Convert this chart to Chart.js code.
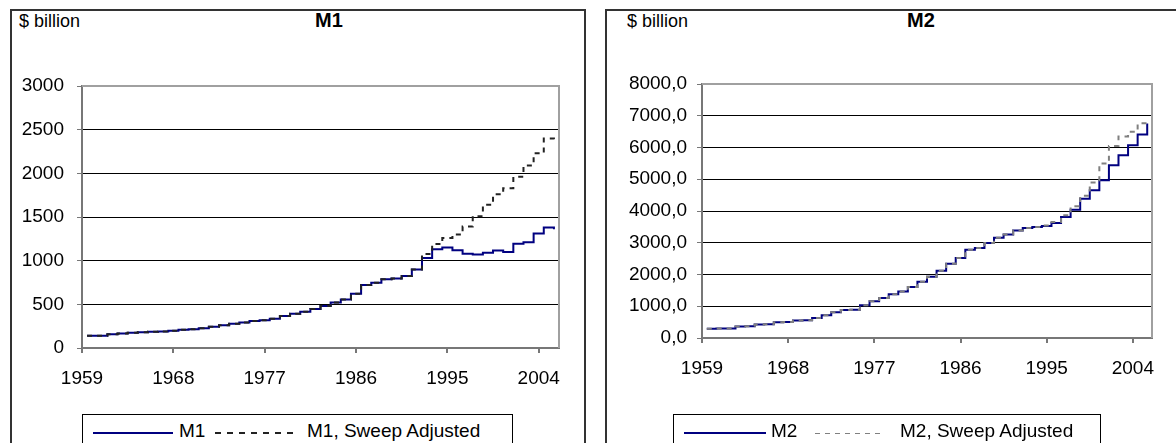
<!DOCTYPE html>
<html><head><meta charset="utf-8">
<script src="https://cdn.jsdelivr.net/npm/chart.js@4.4.1/dist/chart.umd.min.js"></script>
<style>
html,body{margin:0;padding:0;background:#fff;width:1176px;height:443px;overflow:hidden;font-family:"Liberation Sans",Arial,sans-serif;color:#000;}
.panel{position:absolute;border:2px solid #333;border-bottom:none;background:#fff;box-sizing:border-box;}
.t{position:absolute;white-space:nowrap;line-height:1;}
canvas{position:absolute;left:0;top:0;}
.legend{position:absolute;border:1px solid #000;background:#fff;box-sizing:border-box;height:40px;}
.legend .item{position:absolute;top:6px;font-size:19px;line-height:20px;white-space:nowrap;}
.legend .sample{position:absolute;top:17px;}
</style></head><body>
<div class="panel" style="left:10px;top:9px;width:576px;height:440px"></div>
<div class="panel" style="left:605px;top:9px;width:580px;height:440px"></div>
<div class="t" style="left:19px;top:12px;font-size:18px">$ billion</div>
<div class="t" style="left:315px;top:10px;font-size:20px;font-weight:bold">M1</div>
<div class="t" style="left:627px;top:12px;font-size:18px">$ billion</div>
<div class="t" style="left:907px;top:10px;font-size:20px;font-weight:bold">M2</div>
<canvas id="c1" width="1176" height="443"></canvas>
<canvas id="c2" width="1176" height="443"></canvas>
<div class="legend" style="left:82px;top:414px;width:431px">
  <div class="sample" style="left:10px;width:80px;height:2px;background:#000080"></div>
  <div class="item" style="left:96px">M1</div>
  <div class="sample" style="left:132px;width:84px;height:2px;background:repeating-linear-gradient(to right,#222 0 6px,transparent 6px 12px)"></div>
  <div class="item" style="left:224px">M1, Sweep Adjusted</div>
</div>
<div class="legend" style="left:673px;top:414px;width:428px">
  <div class="sample" style="left:10px;width:82px;height:2px;background:#000080"></div>
  <div class="item" style="left:97px">M2</div>
  <div class="sample" style="left:141px;width:67px;height:1px;top:18px;background:repeating-linear-gradient(to right,#808080 0 5px,transparent 5px 10px)"></div>
  <div class="item" style="left:226px">M2, Sweep Adjusted</div>
</div>
<script>
// ---- data ----
const years = [1959,1960,1961,1962,1963,1964,1965,1966,1967,1968,1969,1970,1971,1972,1973,1974,1975,1976,1977,1978,1979,1980,1981,1982,1983,1984,1985,1986,1987,1988,1989,1990,1991,1992,1993,1994,1995,1996,1997,1998,1999,2000,2001,2002,2003,2004,2005];
const m1 = [141,141,158,165,175,179,186,190,197,210,216,227,242,261,279,291,309,317,335,365,391,414,447,482,520,555,620,720,748,786,795,825,900,1030,1130,1150,1120,1080,1070,1090,1115,1100,1195,1210,1310,1380,1360];
const m1Sweep = [141,141,158,165,175,179,186,190,197,210,216,227,242,261,279,291,309,317,335,365,391,414,447,482,520,555,620,720,748,786,795,825,900,1075,1190,1260,1300,1390,1510,1640,1760,1830,1960,2090,2230,2400,2350];
const m2 = [295,298,300,360,368,425,432,500,505,550,560,632,716,810,880,890,1032,1158,1263,1379,1463,1610,1768,1926,2120,2337,2516,2779,2832,2990,3158,3263,3389,3463,3495,3526,3621,3810,4042,4389,4653,4968,5442,5758,6074,6410,6758];
const m2Sweep = [295,298,300,360,368,425,432,500,505,550,560,632,716,810,880,890,1032,1158,1263,1379,1463,1610,1768,1926,2120,2337,2516,2779,2832,2990,3158,3263,3389,3463,3495,3540,3650,3870,4150,4480,4900,5500,6050,6350,6500,6760,6850];
const xTickYears = [1959,1968,1977,1986,1995,2004];
const m1Ticks = [0,500,1000,1500,2000,2500,3000];
const m2Ticks = [0,1000,2000,3000,4000,5000,6000,7000,8000];

const FONT = {family:'"Liberation Sans", Arial, sans-serif', size:19};

const framePlugin = {
  id:'frame',
  beforeDatasetsDraw(chart){
    const a = chart.chartArea, c = chart.ctx;
    c.save();
    c.strokeStyle = '#a0a0a0'; c.lineWidth = 2;
    c.beginPath();
    c.moveTo(a.left, a.top); c.lineTo(a.right, a.top); c.lineTo(a.right, a.bottom);
    c.stroke();
    c.restore();
  }
};

function pts(vals){ return years.map((y,i)=>({x:y+0.5, y:vals[i]})); }

function makeChart(id, cfg){
  const yMax = cfg.yTicks[cfg.yTicks.length-1];
  return new Chart(document.getElementById(id), {
    type:'line',
    data:{datasets:[
      {label:cfg.names[0], data:pts(cfg.a), borderColor:'#000080', borderWidth:2, stepped:'before', pointRadius:0, fill:false, order:1},
      {label:cfg.names[1], data:pts(cfg.b), borderColor:cfg.dashColor, borderWidth:2, borderDash:[5,5], stepped:'before', pointRadius:0, fill:false, order:0}
    ]},
    options:{
      responsive:false, animation:false, events:[],
      layout:{padding:cfg.pad},
      plugins:{legend:{display:false}, tooltip:{enabled:false}},
      scales:{
        x:{type:'linear', min:1959, max:2006,
          afterBuildTicks:s=>{s.ticks = xTickYears.map(v=>({value:v}));},
          afterFit:s=>{s.height = 40;},
          ticks:{autoSkip:false, maxRotation:0, minRotation:0, color:'#000', font:FONT, padding:14, callback:v=>String(v)},
          grid:{drawOnChartArea:false, drawTicks:true, tickLength:5, tickColor:'#777', lineWidth:2},
          border:{display:true, color:'#777', width:2}
        },
        y:{min:0, max:yMax,
          afterBuildTicks:s=>{s.ticks = cfg.yTicks.map(v=>({value:v}));},
          afterFit:s=>{s.width = cfg.yw;},
          ticks:{color:'#000', font:FONT, padding:cfg.ypad, callback:cfg.fmt},
          grid:{color:c=> (c.tick && c.tick.value===yMax) ? 'rgba(0,0,0,0)' : '#000', lineWidth:1, drawTicks:true, tickLength:5, tickColor:'#777'},
          border:{display:true, color:'#777', width:2}
        }
      }
    },
    plugins:[framePlugin]
  });
}

makeChart('c1', {a:m1, b:m1Sweep, names:['M1','M1, Sweep Adjusted'], dashColor:'#222', yTicks:m1Ticks,
  yw:70, ypad:13, fmt:v=>String(v), pad:{left:12, top:86, right:617, bottom:55}});
makeChart('c2', {a:m2, b:m2Sweep, names:['M2','M2, Sweep Adjusted'], dashColor:'#808080', yTicks:m2Ticks,
  yw:80, ypad:10, fmt:v=>Number(v).toFixed(1).replace('.',','), pad:{left:622, top:84, right:24, bottom:65}});
</script>
</body></html>
